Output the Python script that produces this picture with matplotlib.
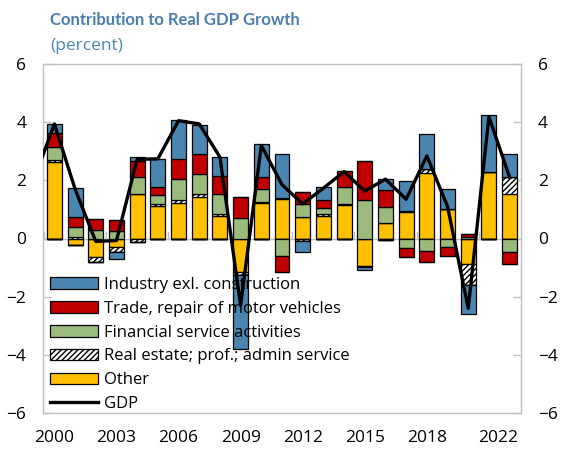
import numpy as np
import matplotlib
matplotlib.use("Agg")
import matplotlib.pyplot as plt

plt.rcParams['font.family'] = ['Open Sans', 'DejaVu Sans']
plt.rcParams['hatch.color'] = '#404040'
plt.rcParams['hatch.linewidth'] = 1.0

years = list(range(2000, 2023))
other = [2.62, -0.22, -0.63, -0.28, 1.53, 1.13, 1.23, 1.42, 0.77, -1.14, 1.21, 1.37,
         0.75, 0.79, 1.16, -0.93, 0.52, 0.90, 2.26, 1.01, -0.89, 2.28, 1.53]
real_estate = [0.08, 0.05, -0.17, -0.17, -0.12, 0.06, 0.09, 0.11, 0.07, -0.12, 0.03, 0.02,
               -0.08, 0.05, 0.03, -0.05, -0.04, 0.06, 0.12, 0.02, -0.71, -0.03, 0.60]
financial = [0.46, 0.33, 0.29, 0.27, 0.57, 0.29, 0.72, 0.69, 0.68, 0.69, 0.46, -0.59,
             0.44, 0.22, 0.57, 1.31, 0.55, -0.34, -0.42, -0.28, 0.06, 0.0, -0.48]
trade = [0.46, 0.35, 0.37, 0.37, 0.58, 0.30, 0.69, 0.69, 0.64, 0.75, 0.42, -0.55,
         0.40, 0.26, 0.57, 1.37, 0.60, -0.30, -0.38, -0.31, 0.09, 0.0, -0.41]
industry = [0.32, 1.00, 0.0, -0.26, 0.11, 0.94, 1.35, 0.99, 0.63, -2.55, 1.14, 1.53,
            -0.40, 0.44, 0.0, -0.10, 0.39, 1.00, 1.22, 0.68, -0.98, 1.95, 0.78]
# GDP line starts one year earlier (runs in from the left edge)
gdp_years = list(range(1999, 2023))
gdp = [2.0, 3.94, 1.7, -0.1, -0.07, 2.72, 2.74, 4.05, 3.94, 2.8, -2.3, 3.2, 1.85,
       1.19, 1.73, 2.30, 1.63, 2.04, 1.35, 2.84, 1.10, -2.4, 4.19, 2.1]

tick_years = [2000, 2003, 2006, 2009, 2012, 2015, 2018]
last_label = '2022'

series = [
    (other, 'Other', '#FFC000', None),
    (real_estate, 'Real estate; prof.; admin service', 'white', '//////'),
    (financial, 'Financial service activities', '#9BBB7D', None),
    (trade, 'Trade, repair of motor vehicles', '#C00000', None),
    (industry, 'Industry exl. construction', '#4A86B0', None),
]

fig = plt.figure(figsize=(5.61, 4.5), dpi=100)
ax = fig.add_axes([43 / 561, 1 - 413 / 450, (521 - 43) / 561, (413 - 64) / 450])

x = np.arange(len(years))
pos_base = np.zeros(len(years))
neg_base = np.zeros(len(years))
handles = {}
for vals, name, color, hatch in series:
    v = np.array(vals)
    pos = np.where(v > 0, v, 0)
    neg = np.where(v < 0, v, 0)
    b = ax.bar(x, pos, 0.72, bottom=pos_base, color=color, edgecolor='black',
               linewidth=0.9, hatch=hatch, zorder=3)
    ax.bar(x, neg, 0.72, bottom=neg_base, color=color, edgecolor='black',
           linewidth=0.9, hatch=hatch, zorder=3)
    pos_base += pos
    neg_base += neg
    handles[name] = b

gx = np.array(gdp_years) - years[0]
line, = ax.plot(gx, gdp, color='black', linewidth=2.4, zorder=5, label='GDP')

ax.set_xlim(-0.55, len(years) - 0.45)
ax.set_ylim(-6, 6)
ax.axhline(0, color='#BFBFBF', linewidth=1.0, zorder=1)

grey = '#BFBFBF'
for s in ax.spines.values():
    s.set_color(grey)
    s.set_linewidth(1.0)

ax.set_yticks([-6, -4, -2, 0, 2, 4, 6])
ax.tick_params(axis='y', direction='in', length=6, color=grey, width=1,
               left=True, right=True, labelleft=True, labelright=True,
               labelsize=12.5, pad=12)
ax.set_xticks([t - years[0] for t in tick_years] + [21.45])
ax.set_xticklabels([str(t) for t in tick_years] + [last_label])
ax.tick_params(axis='x', length=0, labelsize=12.5, pad=12)

# small tick marks on the zero line between categories
for b in np.arange(-0.5, len(years), 3):
    ax.plot([b, b], [0, 0.22], color=grey, linewidth=1.0, zorder=1)

order = ['Industry exl. construction', 'Trade, repair of motor vehicles',
         'Financial service activities', 'Real estate; prof.; admin service', 'Other']
leg = ax.legend([handles[n] for n in order] + [line], order + ['GDP'],
                loc='lower left', bbox_to_anchor=(-0.006, -0.026), frameon=False,
                fontsize=12, handlelength=2.9, handleheight=0.7,
                labelspacing=0.47, handletextpad=0.35, borderaxespad=0.2)

fig.text(50 / 561, 1 - 20 / 450, 'Contribution to Real GDP Growth', color='#4A7EB0',
         fontsize=12, fontweight='bold', family=['Lato', 'DejaVu Sans'],
         va='center', ha='left')
fig.text(50 / 561, 1 - 46 / 450, '(percent)', color='#4A86B8',
         fontsize=12.5, va='center', ha='left')

fig.savefig('out.png', dpi=100)
